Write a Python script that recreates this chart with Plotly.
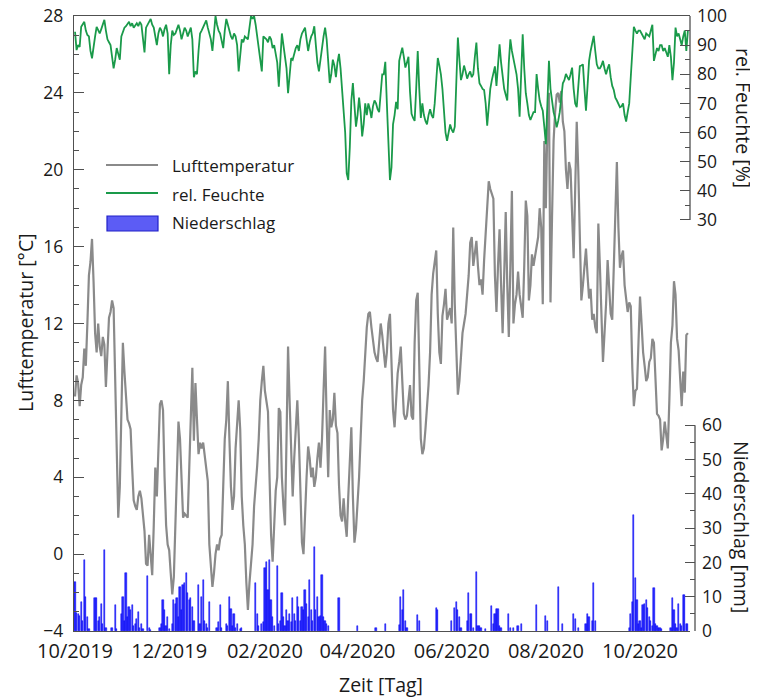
import plotly.graph_objects as go
import pandas as pd

START = "2019-10-01"

temp_c = [
 8.2, 9.3, 8.9, 7.7, 8.8, 9.2, 10.7, 9.8, 12.0, 14.5,
 15.2, 16.4, 14.2, 11.5, 10.5, 12.0, 10.8, 10.3, 11.3, 10.9,
 8.7, 10.5, 12.3, 12.6, 13.2, 12.8, 9.0, 4.4, 1.9, 3.5,
 7.0, 11.0, 9.5, 8.0, 7.0, 6.8, 6.5, 4.5, 2.8, 2.5,
 2.3, 3.0, 3.3, 2.9, 2.0, 1.2, -0.5, -0.6, 1.0, 0.0,
 -1.1, 1.5, 4.5, 3.0, 6.0, 7.8, 8.0, 7.5, 4.0, 1.5,
 0.5, 0.2, -1.0, -2.1, -1.2, 1.5, 5.0, 6.9, 6.0, 4.0,
 1.9, 2.1, 2.0, 1.9, 4.5, 7.5, 9.7, 5.9, 8.9, 7.0,
 5.2, 5.8, 5.5, 5.8, 5.2, 4.5, 3.8, 0.5, -0.8, -1.7,
 -1.0, 0.0, 0.5, 0.2, 0.8, 1.0, 3.5, 6.0, 7.0, 9.0,
 6.0, 3.5, 2.3, 3.0, 5.5, 7.0, 8.0, 6.5, 3.0, 1.5,
 0.5, -1.5, -2.9, -1.5, -0.2, 0.5, 2.5, 3.5, 4.6, 6.0,
 8.0, 9.0, 9.8, 8.5, 7.8, 7.4, 4.0, 1.0, -0.4, 1.5,
 3.3, 4.0, 7.6, 7.4, 4.0, 2.5, 1.5, 6.0, 10.8, 8.0,
 5.2, 3.0, 5.0, 6.5, 8.0, 6.0, 3.0, 0.6, 0.0, 2.5,
 4.0, 5.6, 5.0, 4.0, 4.5, 3.5, 4.0, 5.0, 5.8, 4.5,
 6.0, 8.5, 10.8, 7.0, 4.0, 7.5, 6.6, 7.0, 8.4, 6.7,
 6.3, 3.6, 2.0, 1.7, 2.9, 1.7, 0.9, 3.0, 4.5, 6.6,
 3.0, 0.6, 1.3, 2.6, 4.0, 6.0, 8.0, 9.0, 10.5, 11.8,
 12.5, 12.6, 11.8, 11.0, 10.5, 10.2, 10.0, 11.0, 12.0, 11.4,
 10.5, 9.7, 10.5, 12.0, 12.5, 10.0, 7.5, 6.6, 8.0, 9.4,
 10.0, 10.8, 9.0, 7.3, 7.0, 7.2, 8.0, 8.8, 7.2, 7.0,
 11.0, 13.2, 13.6, 10.0, 6.0, 5.2, 5.5, 6.5, 7.5, 8.8,
 10.5, 13.5, 14.6, 15.3, 15.8, 12.5, 10.5, 9.9, 12.4, 13.0,
 13.8, 12.2, 12.5, 12.8, 12.0, 17.0, 13.0, 10.0, 8.3, 9.0,
 10.5, 11.5, 12.0, 12.5, 13.5, 14.5, 16.2, 16.5, 15.0, 15.8,
 16.3, 15.0, 14.0, 14.3, 13.5, 15.3, 16.5, 18.0, 19.4, 19.0,
 18.8, 18.5, 14.5, 12.6, 15.0, 16.9, 14.0, 11.5, 14.5, 17.8,
 14.0, 11.3, 15.0, 18.9, 12.0, 13.0, 13.5, 14.7, 13.5, 12.8,
 12.3, 15.0, 18.4, 17.6, 13.2, 14.0, 15.6, 15.0, 15.5, 16.0,
 16.5, 18.0, 17.0, 13.0, 21.5, 18.0, 22.5, 24.0, 13.1, 17.5,
 21.5, 23.0, 23.9, 24.0, 23.5, 24.1, 22.5, 22.0, 20.0, 19.0,
 20.4, 20.0, 17.0, 15.4, 19.0, 22.5, 20.0, 15.8, 13.2, 14.0,
 15.0, 15.9, 14.5, 13.3, 13.8, 12.2, 12.5, 11.8, 11.5, 17.2,
 15.0, 12.0, 10.0, 11.5, 13.0, 15.3, 14.0, 12.5, 12.2, 15.0,
 18.0, 20.4, 17.0, 14.9, 15.5, 15.8, 14.0, 13.2, 12.6, 13.1,
 12.9, 9.7, 7.7, 8.5, 8.6, 11.0, 13.4, 12.0, 10.5, 9.8,
 9.0, 9.2, 10.0, 10.2, 11.2, 11.0, 9.0, 7.3, 7.2, 7.0,
 5.4, 6.0, 6.9, 6.0, 5.5, 8.0, 11.0, 11.9, 14.2, 13.5,
 11.2, 10.6, 9.0, 7.7, 9.5, 8.4, 11.4, 11.5,
]

humidity_pct = [
 94.6, 88.3, 90.0, 89.4, 96.3, 97.0, 98.0, 95.0, 93.5, 93.0,
 88.0, 85.5, 90.0, 93.0, 96.3, 95.0, 94.0, 95.5, 97.0, 98.7,
 95.0, 92.0, 91.0, 90.0, 86.0, 82.0, 85.0, 89.0, 87.0, 85.0,
 93.0, 94.5, 96.0, 96.5, 97.5, 98.0, 96.5, 97.5, 96.0, 97.0,
 97.5, 96.5, 98.0, 97.0, 93.0, 87.5, 96.0, 97.0, 98.0, 99.0,
 97.0, 96.0, 93.0, 90.0, 94.0, 96.0, 95.0, 93.0, 95.5, 97.0,
 94.0, 80.0, 90.0, 95.0, 93.5, 94.0, 95.5, 97.0, 95.0, 92.0,
 94.0, 96.0, 95.0, 93.0, 94.5, 96.0, 92.0, 79.0, 81.0, 80.0,
 88.0, 94.0, 95.0, 96.0, 97.0, 98.5, 96.0, 94.0, 92.0, 88.0,
 93.0, 100.0, 97.0, 95.0, 94.0, 91.0, 89.0, 95.0, 99.0, 97.0,
 95.0, 93.0, 92.0, 94.0, 93.0, 90.0, 81.0, 87.0, 92.0, 91.0,
 93.0, 92.5, 92.0, 96.0, 100.0, 99.0, 100.0, 97.0, 93.0, 90.0,
 86.0, 81.0, 93.0, 92.5, 92.0, 91.0, 93.0, 92.0, 89.0, 90.0,
 87.0, 84.0, 75.7, 86.0, 94.0, 90.0, 85.0, 82.0, 73.5, 80.0,
 85.5, 85.0, 87.0, 89.0, 90.0, 88.0, 92.0, 94.0, 95.0, 96.0,
 92.0, 88.0, 91.0, 93.0, 94.0, 96.5, 90.0, 84.0, 81.0, 86.0,
 89.0, 93.0, 96.0, 92.0, 85.5, 77.0, 80.0, 85.0, 83.0, 79.0,
 84.0, 87.0, 82.0, 75.0, 70.0, 60.0, 46.0, 43.7, 55.0, 71.0,
 77.0, 68.0, 62.0, 66.0, 72.0, 67.0, 58.7, 63.0, 70.0, 66.0,
 70.0, 68.0, 65.0, 69.0, 71.0, 70.0, 68.0, 67.0, 75.0, 80.0,
 80.0, 84.3, 70.0, 54.0, 43.7, 48.0, 62.8, 66.0, 70.5, 68.0,
 84.6, 87.0, 89.1, 86.0, 82.3, 84.0, 86.0, 74.0, 66.4, 65.0,
 64.0, 75.0, 88.0, 75.0, 65.0, 70.0, 66.0, 64.0, 62.8, 66.0,
 68.0, 66.0, 65.0, 70.0, 78.0, 85.6, 83.0, 80.0, 75.0, 67.5,
 60.0, 57.2, 60.0, 62.8, 61.0, 60.0, 62.0, 80.0, 92.6, 85.0,
 78.0, 80.0, 83.0, 81.0, 78.5, 80.0, 81.0, 79.0, 80.0, 86.0,
 90.9, 82.0, 76.9, 76.0, 75.0, 74.6, 70.0, 62.4, 70.0, 75.0,
 78.0, 80.0, 82.7, 76.0, 85.0, 90.3, 84.0, 79.0, 75.0, 73.0,
 71.0, 84.0, 92.0, 88.0, 85.6, 83.0, 80.0, 75.0, 65.4, 80.0,
 93.7, 82.0, 73.5, 70.0, 66.0, 64.3, 66.0, 67.0, 67.0, 80.1,
 75.0, 71.0, 69.0, 67.5, 62.0, 56.0, 70.0, 84.6, 75.0, 70.0,
 67.0, 65.0, 61.8, 64.0, 67.0, 72.0, 76.9, 78.0, 80.1, 79.0,
 78.0, 80.0, 82.3, 75.0, 70.0, 68.7, 76.0, 82.8, 83.0, 83.4,
 75.0, 67.5, 76.0, 84.6, 88.0, 91.0, 93.2, 88.0, 83.4, 82.0,
 82.0, 83.0, 84.6, 82.0, 80.0, 82.0, 83.4, 79.0, 76.0, 74.6,
 72.0, 71.0, 70.0, 68.7, 69.0, 70.0, 66.0, 63.8, 67.0, 70.0,
 79.0, 90.0, 96.3, 95.0, 94.0, 95.0, 95.0, 94.0, 93.0, 92.0,
 94.0, 93.5, 93.0, 95.0, 97.0, 84.6, 87.0, 89.0, 88.0, 90.0,
 90.0, 88.0, 89.0, 87.0, 86.0, 90.0, 86.0, 78.0, 84.0, 96.0,
 93.0, 94.0, 92.0, 90.0, 93.0, 95.0, 88.0, 95.0,
]

# precipitation: day offset from START and amount [mm] (days without rain omitted)
rain_day = [
 0, 1, 2, 3, 4, 5, 6, 7, 8, 9, 13, 14, 15, 16, 17, 18, 19, 20, 24, 26, 27,
 30, 31, 32, 33, 34, 35, 36, 37, 38, 39, 40, 41, 42, 43, 44, 47, 48, 49,
 55, 56, 57, 58, 59, 60, 61, 63, 64, 65, 66, 67, 68, 69, 70, 71, 72, 73, 74, 75, 76, 77,
 80, 81, 82, 83, 84, 85, 86, 87, 92, 93, 94, 95, 98, 99, 100, 101, 102, 103, 104, 105, 107, 108,
 117, 118, 119, 121, 122, 123, 124, 125, 126, 127, 128, 129,
 131, 132, 133, 134, 135, 136, 137, 138, 139, 140, 141, 142, 143, 144, 145, 146, 147, 148, 149,
 150, 151, 152, 153, 154, 155, 156, 157, 158, 159, 160, 161, 162, 163, 164, 171, 183, 195,
 201, 210, 211, 212, 213, 214, 215, 222, 223, 234, 235, 244, 246, 247, 248, 249, 250,
 254, 255, 256, 257, 258, 260, 261, 262, 263, 266, 270, 271, 272, 273, 274, 275, 276,
 281, 282, 284, 287, 289, 299, 305, 306, 313, 316, 323, 324, 326, 331, 332, 333, 335, 336, 337,
 359, 360, 361, 362, 363, 364, 365, 366, 367, 368, 369, 370, 371, 372, 373, 374, 375, 376, 377, 378, 379, 380,
 386, 387, 388, 389, 390, 391, 392, 393, 394, 395, 396, 397,
]
rain_mm = [
 14.4, 5.2, 5.0, 4.5, 8.6, 3.0, 20.7, 10.0, 4.0, 0.5, 9.5, 9.5, 3.0, 4.0, 8.0, 2.0, 23.6, 0.8, 1.0, 7.6, 0.5,
 5.0, 10.0, 3.0, 16.9, 4.0, 7.0, 6.0, 7.6, 1.5, 2.0, 3.5, 5.5, 1.0, 2.0, 0.5, 16.0, 1.0, 0.3,
 1.0, 2.0, 9.0, 6.0, 1.5, 4.0, 0.5, 2.0, 9.0, 8.0, 9.5, 4.0, 12.9, 6.0, 13.4, 14.0, 16.9, 11.0, 9.0, 9.5, 7.0, 3.0,
 13.4, 2.0, 10.0, 14.9, 3.0, 2.0, 1.0, 8.5, 1.0, 2.5, 7.6, 1.0, 2.0, 1.5, 10.0, 6.5, 1.5, 5.0, 1.0, 2.0, 0.5, 1.0,
 14.0, 5.0, 1.5, 2.0, 2.5, 18.4, 20.1, 11.9, 20.6, 9.0, 4.0, 1.5,
 18.9, 2.0, 3.0, 11.0, 4.0, 1.5, 6.0, 3.0, 5.0, 2.5, 9.5, 5.0, 3.0, 10.0, 7.0, 3.0, 7.0, 6.0, 12.0,
 8.0, 4.0, 14.9, 6.0, 3.0, 24.5, 6.0, 10.0, 4.0, 4.5, 16.3, 4.0, 3.0, 2.0, 1.5, 9.5, 1.5, 0.8,
 2.0, 1.8, 10.0, 6.0, 12.0, 3.0, 1.0, 4.7, 3.0, 6.6, 6.0, 3.0, 6.6, 8.6, 6.0, 4.0, 1.0,
 3.0, 11.0, 5.0, 5.0, 1.0, 17.3, 1.5, 1.5, 1.0, 0.5, 7.3, 2.0, 5.0, 6.5, 6.5, 1.5, 1.0,
 5.0, 1.0, 1.0, 1.5, 2.0, 7.6, 4.4, 3.0, 12.9, 2.0, 5.0, 3.5, 1.0, 2.0, 5.0, 4.0, 3.0, 14.0, 3.0,
 1.0, 5.0, 8.6, 33.8, 15.5, 9.0, 2.0, 3.0, 1.0, 7.6, 8.0, 9.0, 6.6, 4.0, 3.0, 1.5, 12.4, 2.0, 1.5, 1.0, 1.0, 0.5,
 1.0, 9.5, 6.0, 2.0, 1.0, 8.0, 2.0, 1.5, 10.5, 10.5, 2.0, 2.0,
]

x_tick_vals = ["2019-10-01", "2019-12-01", "2020-02-01", "2020-04-01",
               "2020-06-01", "2020-08-01", "2020-10-01"]
x_tick_text = ["10/2019", "12/2019", "02/2020", "04/2020", "06/2020", "08/2020", "10/2020"]
temp_ticks = [-4, 0, 4, 8, 12, 16, 20, 24, 28]
hum_ticks = [30, 40, 50, 60, 70, 80, 90, 100]
hum_minor = [35, 45, 55, 65, 75, 85, 95]
rain_ticks = [0, 10, 20, 30, 40, 50, 60]
rain_minor = [5, 15, 25, 35, 45, 55]

dates = pd.date_range(START, periods=len(temp_c), freq="D")
rain_dates = dates[rain_day]

# the page body adds an 8 px margin, so the figure is 8 px smaller than the window
OFF = 8
W, H = 758 - OFF, 697 - OFF
PLOT_L, PLOT_R, PLOT_T, PLOT_B = 74, 695, 16, 631   # target page pixels
ML, MR, MT, MB = PLOT_L - OFF, (758 - PLOT_R), PLOT_T - OFF, (697 - PLOT_B)
PW = W - ML - MR
PH = H - MT - MB
X_DOM = (690 - PLOT_L) / PW

def px(xp):
    return (xp - PLOT_L) / PW

def py(yp):
    return (PLOT_B - yp) / PH

FONT = "Open Sans"
TXT = "#1a1a1a"
AX = "#505050"

fig = go.Figure()
fig.add_trace(go.Bar(x=rain_dates, y=rain_mm, yaxis="y3", name="Niederschlag",
                     width=0.8 * 86400000, marker=dict(color="#2a2aff", line=dict(color="#0000f0", width=0.5)),
                     showlegend=False))
fig.add_trace(go.Scatter(x=dates, y=temp_c, mode="lines", name="Lufttemperatur",
                         line=dict(color="#8a8a8a", width=2.2), showlegend=False))
fig.add_trace(go.Scatter(x=dates, y=humidity_pct, mode="lines", yaxis="y2", name="rel. Feuchte",
                         line=dict(color="#1a9a4a", width=1.8), showlegend=False))

shapes = [
    dict(type="line", xref="paper", yref="y2", x0=X_DOM, x1=X_DOM, y0=30, y1=100,
         line=dict(color=AX, width=1.3)),
    dict(type="line", xref="paper", yref="y3", x0=1, x1=1, y0=0, y1=60,
         line=dict(color=AX, width=1.3)),
    # legend samples
    dict(type="line", xref="paper", yref="paper", x0=px(106), x1=px(158), y0=py(165), y1=py(165),
         line=dict(color="#8a8a8a", width=2.2)),
    dict(type="line", xref="paper", yref="paper", x0=px(106), x1=px(158), y0=py(193), y1=py(193),
         line=dict(color="#1a9a4a", width=1.8)),
    dict(type="rect", xref="paper", yref="paper", x0=px(107), x1=px(158), y0=py(231), y1=py(216),
         fillcolor="#5c5cf5", line=dict(color="#2020c8", width=1.2)),
]

def ann(text, xp, yp, size, angle=0, anchor="center"):
    return dict(text=text, x=px(xp), y=py(yp), xref="paper", yref="paper", showarrow=False,
                textangle=angle, xanchor=anchor, yanchor="middle",
                font=dict(family=FONT, size=size, color=TXT))

annotations = [
    ann("Lufttemperatur", 170, 165, 17, anchor="left"),
    ann("rel. Feuchte", 170, 194, 17, anchor="left"),
    ann("Niederschlag", 170, 223, 17, anchor="left"),
    ann("Lufttemperatur [°C]", 25, 323, 19.5, angle=-90),
    ann("rel. Feuchte [%]", 744, 118, 19.5, angle=90),
    ann("Niederschlag [mm]", 742, 527, 19.5, angle=90),
    ann("Zeit [Tag]", 381, 684, 19.5),
]

fig.update_layout(
    width=W, height=H,
    margin=dict(l=ML, r=MR, t=MT, b=MB, pad=0, autoexpand=False),
    paper_bgcolor="white", plot_bgcolor="white",
    font=dict(family=FONT, color=TXT),
    showlegend=False,
    bargap=0,
    shapes=shapes,
    annotations=annotations,
    xaxis=dict(domain=[0, X_DOM], type="date", automargin=False,
               range=["2019-09-30 08:00", "2020-11-02 09:00"],
               tickvals=x_tick_vals, ticktext=x_tick_text, ticks="",
               showline=True, mirror=True, linecolor=AX, linewidth=1.3,
               showgrid=False, zeroline=False, ticklabelstandoff=2, ticklabeloverflow="allow",
               tickfont=dict(family=FONT, size=20, color=TXT)),
    yaxis=dict(range=[-4, 28], tickvals=temp_ticks, ticks="inside", ticklen=10, automargin=False,
               tickcolor=AX, tickwidth=1.2, showline=True, linecolor=AX, linewidth=1.3,
               showgrid=False, zeroline=False, ticklabelstandoff=6, ticklabeloverflow="allow",
               minor=dict(ticks="inside", ticklen=5, dtick=1, tick0=-4, tickcolor=AX, tickwidth=1, showgrid=False),
               tickfont=dict(family=FONT, size=17.5, color=TXT)),
    yaxis2=dict(overlaying="y", side="right", anchor="free", position=X_DOM, automargin=False,
                range=[100 - PH / 2.914, 100], tickvals=hum_ticks, ticks="inside", ticklen=10,
                tickcolor=AX, tickwidth=1.2, showline=False, showgrid=False, zeroline=False,
                ticklabelstandoff=6, ticklabeloverflow="allow",
                minor=dict(ticks="inside", ticklen=5, tickvals=hum_minor, tickcolor=AX, tickwidth=1, showgrid=False),
                tickfont=dict(family=FONT, size=17.5, color=TXT)),
    yaxis3=dict(overlaying="y", side="right", anchor="free", position=1, automargin=False,
                range=[0, PH / 3.43], tickvals=rain_ticks, ticks="inside", ticklen=10,
                tickcolor=AX, tickwidth=1.2, showline=False, showgrid=False, zeroline=False,
                ticklabelstandoff=6, ticklabeloverflow="allow",
                minor=dict(ticks="inside", ticklen=5, tickvals=rain_minor, tickcolor=AX, tickwidth=1, showgrid=False),
                tickfont=dict(family=FONT, size=17.5, color=TXT)),
)

fig.write_html("out.html")
